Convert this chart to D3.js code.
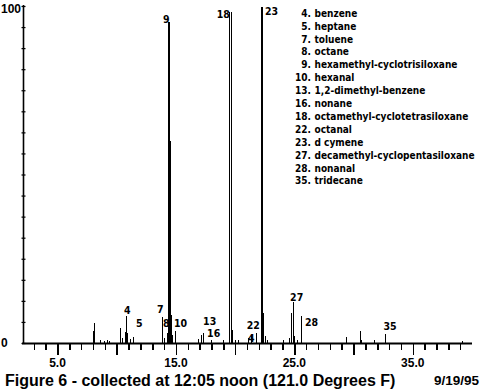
<!DOCTYPE html>
<html>
<head>
<meta charset="utf-8">
<script src="https://cdn.jsdelivr.net/npm/d3@7"></script>
<style>
  body { margin: 0; background: #fff; }
  .narrow { font-family: "Liberation Sans Narrow", "DejaVu Sans Condensed", "Arial Narrow", sans-serif; font-weight: bold; }
  .wide { font-family: "Liberation Sans", Arial, sans-serif; font-weight: bold; }
</style>
</head>
<body>
<div id="chart"></div>
<script>
// Set size
let w = 483;
let h = 391;

// retention time (min) and relative abundance (%) of each spike in the trace
const peakTimes = [8.06, 8.14, 8.60, 8.95, 9.20, 9.35,
  10.28, 10.45, 10.70, 10.84, 10.92, 11.12, 11.40,
  13.85, 14.05, 14.25, 14.37, 14.455, 14.54, 14.62, 14.72, 14.98,
  16.89, 17.18, 17.31, 18.02, 18.98,
  19.52, 19.68, 19.80, 19.99, 20.24,
  21.09, 21.34, 21.76, 22.22, 22.31, 22.39, 22.52, 22.69,
  24.07, 24.58, 24.72, 24.78, 24.91, 25.01, 25.25, 25.62,
  29.42, 30.55, 30.63, 31.75, 32.72, 39.22];
const peakHeights = [3.6, 6.0, 0.8, 0.7, 0.8, 0.6,
  4.4, 1.5, 3.4, 8.1, 3.0, 1.2, 1.9,
  7.8, 1.5, 3.0, 95.3, 95.3, 60, 8.3, 2.5, 3.6,
  1.2, 2.4, 3.0, 1.0, 1.0,
  98.3, 98.3, 4.0, 0.8, 0.8,
  1.5, 2.0, 3.0, 99.6, 99.6, 9.0, 2.0, 0.8,
  1.0, 1.5, 3.0, 8.8, 12.3, 2.0, 1.0, 8.1,
  1.7, 3.6, 1.0, 1.0, 2.7, 0.5];

// peak number labels, anchored at (time, abundance) of their lower left corner
const labelTexts = ["4", "5", "7", "8", "9", "10", "13", "16", "18", "22", "4", "23", "27", "28", "35"];
const labelTimes = [10.61, 11.63, 13.40, 13.91, 13.91, 14.84, 17.29, 17.63, 18.44, 20.98, 21.09, 22.52, 24.64, 25.90, 32.52];
const labelHeights = [8.6, 4.8, 8.9, 4.8, 95, 4.8, 5.3, 1.8, 96.4, 4.2, 0.3, 97.3, 12.6, 5.0, 3.9];

// compound key
const legendNumbers = ["4.", "5.", "7.", "8.", "9.", "10.", "13.", "16.", "18.", "22.", "23.", "27.", "28.", "35."];
const legendNames = ["benzene", "heptane", "toluene", "octane", "hexamethyl-cyclotrisiloxane",
  "hexanal", "1,2-dimethyl-benzene", "nonane", "octamethyl-cyclotetrasiloxane", "octanal",
  "d cymene", "decamethyl-cyclopentasiloxane", "nonanal", "tridecane"];

// axis labels
const xLabelValues = [5, 15, 25, 35];
const yLabelValues = [0, 100];
const title = "Figure 6 - collected at 12:05 noon (121.0 Degrees F)";
const dateText = "9/19/95";

let xScale = d3.scaleLinear().domain([2, 40]).range([22, 472]);
let yScale = d3.scaleLinear().domain([0, 100]).range([343, 6]);

//Create SVG element
let svg = d3.select("#chart")
  .append("svg")
  .attr("width", w)
  .attr("height", h)
  .style("background", "#fff");

// x axis: minor ticks every minute, long ticks every 5
let xMinor = d3.axisBottom(xScale)
  .tickValues(d3.range(3, 40, 1).filter((d) => d % 5 != 0))
  .tickSize(7)
  .tickFormat("");
let xMajor = d3.axisBottom(xScale)
  .tickValues(d3.range(5, 40, 5))
  .tickSize(12)
  .tickFormat("");
[xMinor, xMajor].forEach((ax) => {
  let g = svg.append("g")
    .attr("transform", "translate(0," + yScale(0) + ")")
    .call(ax);
  g.select(".domain").remove();
  g.selectAll("line").attr("stroke", "#000").attr("stroke-width", 1.5).attr("shape-rendering", "crispEdges");
});

// y axis ticks cross the axis line
let yAxis = d3.axisLeft(yScale)
  .tickValues(d3.range(0, 100.1, 6.25))
  .tickSize(4)
  .tickFormat("");
let gy = svg.append("g")
  .attr("transform", "translate(25.5,0)")
  .call(yAxis);
gy.select(".domain").remove();
gy.selectAll("line").attr("stroke", "#000").attr("stroke-width", 1.2);

// axis lines
svg.append("line")
  .attr("x1", xScale(2)).attr("x2", xScale(40))
  .attr("y1", yScale(0) + 0.5).attr("y2", yScale(0) + 0.5)
  .attr("stroke", "#000").attr("stroke-width", 2);
svg.append("line")
  .attr("x1", 23.5).attr("x2", 23.5)
  .attr("y1", 5).attr("y2", yScale(0) + 1)
  .attr("stroke", "#000").attr("stroke-width", 1.6);

//Create peaks
svg.selectAll(".peak")
  .data(peakTimes)
  .enter()
  .append("line")
  .attr("class", "peak")
  .attr("x1", (d) => Math.floor(xScale(d)) + 0.5)
  .attr("x2", (d) => Math.floor(xScale(d)) + 0.5)
  .attr("y1", yScale(0))
  .attr("y2", (d, i) => yScale(peakHeights[i]))
  .attr("stroke", "#000")
  .attr("stroke-width", 1)
  .attr("shape-rendering", "crispEdges");

//Create peak labels
svg.selectAll(".plabel")
  .data(labelTexts)
  .enter()
  .append("text")
  .attr("class", "plabel narrow")
  .text((d) => d)
  .attr("x", (d, i) => xScale(labelTimes[i]))
  .attr("y", (d, i) => yScale(labelHeights[i]))
  .attr("font-size", "10.5px");

// legend
svg.selectAll(".lnum")
  .data(legendNumbers)
  .enter()
  .append("text")
  .attr("class", "lnum narrow")
  .text((d) => d)
  .attr("text-anchor", "end")
  .attr("x", 311)
  .attr("y", (d, i) => 16.7 + i * 12.9)
  .attr("font-size", "10px");
svg.selectAll(".lname")
  .data(legendNames)
  .enter()
  .append("text")
  .attr("class", "lname narrow")
  .text((d) => d)
  .attr("x", 314.5)
  .attr("y", (d, i) => 16.7 + i * 12.9)
  .attr("font-size", "10px");

// tick labels
svg.selectAll(".xlabel")
  .data(xLabelValues)
  .enter()
  .append("text")
  .attr("class", "xlabel wide")
  .text((d) => d3.format(".1f")(d))
  .attr("text-anchor", "middle")
  .attr("x", (d) => xScale(d))
  .attr("y", 367)
  .attr("font-size", "12px");
svg.selectAll(".ylabel")
  .data(yLabelValues)
  .enter()
  .append("text")
  .attr("class", "ylabel wide")
  .text((d) => d)
  .attr("x", 1)
  .attr("y", (d) => yScale(d) + (d == 0 ? 4 : 7))
  .attr("font-size", "12px");

// caption
svg.append("text")
  .attr("class", "wide")
  .text(title)
  .attr("x", 5)
  .attr("y", 386)
  .attr("font-size", "16px");
svg.append("text")
  .attr("class", "wide")
  .text(dateText)
  .attr("text-anchor", "end")
  .attr("x", 479)
  .attr("y", 385)
  .attr("font-size", "13.5px");
</script>
</body>
</html>
